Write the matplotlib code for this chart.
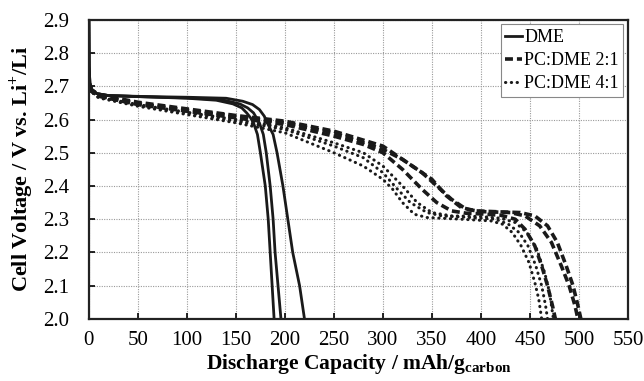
import numpy as np
import matplotlib.pyplot as plt

plt.rcParams["font.family"] = ["Liberation Serif", "DejaVu Serif"]
plt.rcParams["mathtext.fontset"] = "custom"
plt.rcParams["mathtext.rm"] = "Liberation Serif"
plt.rcParams["mathtext.bf"] = "Liberation Serif:bold"

# Discharge curves: capacity (mAh/g carbon) vs cell voltage (V)
dme_a_cap = [0, 0.3, 1, 3, 8, 20, 60, 100, 130, 147, 156, 161, 165, 168, 172, 175, 180, 183, 185, 187, 189]
dme_a_v = [2.90, 2.76, 2.71, 2.69, 2.678, 2.672, 2.668, 2.664, 2.658, 2.647, 2.635, 2.62, 2.605, 2.59, 2.555, 2.50, 2.40, 2.30, 2.20, 2.10, 2.00]
dme_b_cap = [0, 0.3, 1, 3, 8, 20, 60, 100, 135, 154, 162, 168, 174, 178, 181, 185, 188, 190, 193, 196]
dme_b_v = [2.90, 2.76, 2.71, 2.69, 2.678, 2.672, 2.668, 2.665, 2.66, 2.647, 2.635, 2.62, 2.59, 2.555, 2.50, 2.40, 2.30, 2.20, 2.10, 2.00]
dme_c_cap = [0, 0.3, 1, 3, 8, 20, 60, 100, 140, 157, 167, 174, 179, 182, 188, 192, 198, 203, 208, 215, 220]
dme_c_v = [2.90, 2.76, 2.71, 2.69, 2.678, 2.672, 2.669, 2.667, 2.664, 2.655, 2.645, 2.63, 2.61, 2.59, 2.555, 2.50, 2.40, 2.30, 2.20, 2.10, 2.00]

pc21_a_cap = [0, 10, 50, 100, 150, 200, 250, 280, 300, 320, 340, 355, 370, 385, 400, 420, 435, 445, 455, 462, 468, 473, 476]
pc21_a_v = [2.69, 2.67, 2.645, 2.625, 2.605, 2.585, 2.55, 2.525, 2.50, 2.45, 2.39, 2.35, 2.325, 2.318, 2.316, 2.312, 2.30, 2.27, 2.22, 2.16, 2.10, 2.04, 2.00]
pc21_b_cap = [0, 10, 50, 100, 150, 200, 250, 300, 320, 340, 355, 370, 385, 400, 430, 445, 460, 472, 482, 490, 496, 499]
pc21_b_v = [2.69, 2.672, 2.648, 2.628, 2.61, 2.59, 2.56, 2.51, 2.48, 2.44, 2.40, 2.36, 2.33, 2.323, 2.32, 2.31, 2.28, 2.23, 2.16, 2.10, 2.04, 2.00]
pc21_c_cap = [0, 10, 50, 100, 150, 200, 250, 300, 325, 350, 365, 380, 395, 420, 440, 455, 468, 478, 487, 494, 499, 502]
pc21_c_v = [2.695, 2.675, 2.652, 2.632, 2.612, 2.595, 2.565, 2.52, 2.47, 2.42, 2.37, 2.335, 2.325, 2.322, 2.32, 2.31, 2.28, 2.23, 2.16, 2.10, 2.04, 2.00]

pc41_a_cap = [0, 10, 50, 100, 150, 200, 250, 280, 300, 310, 320, 332, 345, 380, 410, 422, 432, 441, 449, 455, 459, 462]
pc41_a_v = [2.69, 2.665, 2.64, 2.615, 2.59, 2.56, 2.50, 2.46, 2.42, 2.39, 2.35, 2.315, 2.305, 2.30, 2.295, 2.285, 2.26, 2.22, 2.17, 2.11, 2.06, 2.00]
pc41_b_cap = [0, 10, 50, 100, 150, 200, 250, 280, 300, 315, 328, 345, 360, 390, 415, 428, 439, 448, 456, 462, 466, 468]
pc41_b_v = [2.69, 2.667, 2.642, 2.62, 2.595, 2.57, 2.52, 2.485, 2.44, 2.39, 2.35, 2.32, 2.31, 2.305, 2.30, 2.285, 2.26, 2.22, 2.16, 2.10, 2.04, 2.00]
pc41_c_cap = [0, 10, 50, 100, 150, 200, 250, 280, 300, 320, 335, 350, 370, 400, 420, 435, 447, 457, 465, 470, 474]
pc41_c_v = [2.69, 2.668, 2.645, 2.622, 2.60, 2.575, 2.53, 2.50, 2.46, 2.40, 2.35, 2.32, 2.31, 2.308, 2.303, 2.29, 2.26, 2.21, 2.14, 2.08, 2.00]

x_ticks = np.arange(0, 551, 50)
y_ticks = np.arange(2.0, 2.91, 0.1)

fig = plt.figure(figsize=(6.44, 3.81), dpi=100)
ax = fig.add_axes([0.138, 0.163, 0.837, 0.785])

solid = dict(color="#1a1a1a", lw=2.0, ls="-")
dashed = dict(color="#1a1a1a", lw=2.6, ls=(0, (2.2, 1.1)))
dotted = dict(color="#1a1a1a", lw=2.2, ls=(0, (0.1, 1.8)), dash_capstyle="round")

ax.plot(dme_a_cap, dme_a_v, label="DME", **solid)
ax.plot(dme_b_cap, dme_b_v, **solid)
ax.plot(dme_c_cap, dme_c_v, **solid)
ax.plot(pc21_a_cap, pc21_a_v, label="PC:DME 2:1", **dashed)
ax.plot(pc21_b_cap, pc21_b_v, **dashed)
ax.plot(pc21_c_cap, pc21_c_v, **dashed)
ax.plot(pc41_a_cap, pc41_a_v, label="PC:DME 4:1", **dotted)
ax.plot(pc41_b_cap, pc41_b_v, **dotted)
ax.plot(pc41_c_cap, pc41_c_v, **dotted)

ax.set_xlim(0, 550)
ax.set_ylim(2.0, 2.9)
ax.set_xticks(x_ticks)
ax.set_yticks(y_ticks)
ax.set_yticklabels([f"{v:.1f}" for v in y_ticks])
ax.tick_params(direction="in", length=4, width=1.2, labelsize=15)
ax.tick_params(axis="y", pad=14)
ax.tick_params(axis="x", pad=9)
ax.grid(True, color="#9a9a9a", ls=(0, (1, 1.2)), lw=0.8)
for sp in ax.spines.values():
    sp.set_linewidth(1.6)
    sp.set_color("#222222")

ax.set_xlabel(r"Discharge Capacity / mAh/g$_{\mathbf{carbon}}$", fontsize=15.5, fontweight="bold", labelpad=1)
ax.set_ylabel(r"Cell Voltage / V vs. Li$^{\mathbf{+}}$/Li", fontsize=16, fontweight="bold", labelpad=5)

leg = ax.legend(loc="upper right", fontsize=13, handlelength=0.95, handletextpad=0.1,
                borderpad=0.25, labelspacing=0.35, borderaxespad=0.25, fancybox=False,
                framealpha=1)
leg.get_frame().set_edgecolor("#888888")
leg.get_frame().set_linewidth(0.8)

fig.savefig("out.png", dpi=100)
